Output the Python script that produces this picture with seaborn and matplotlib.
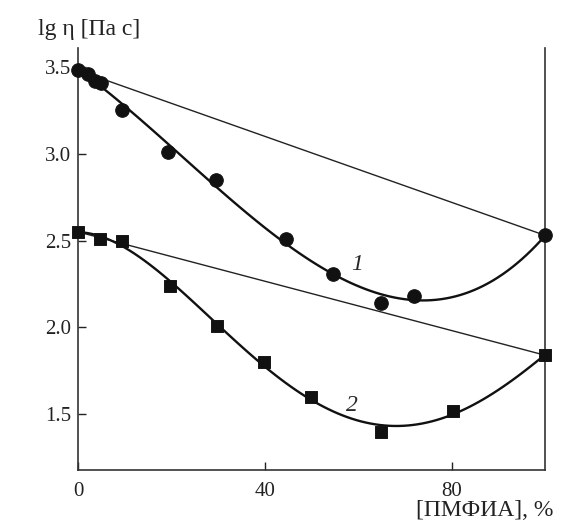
import pandas as pd
import matplotlib.pyplot as plt
import seaborn as sns

# curve 1 (circles)
x1 = [0, 2.2, 3.6, 4.9, 9.4, 19.3, 29.5, 44.5, 54.6, 64.9, 72, 100]
y1 = [3.48, 3.46, 3.42, 3.41, 3.25, 3.01, 2.85, 2.51, 2.31, 2.14, 2.18, 2.53]
# curve 2 (squares)
x2 = [0, 4.7, 9.4, 19.7, 29.8, 39.8, 49.9, 64.9, 80.3, 100]
y2 = [2.55, 2.51, 2.50, 2.24, 2.01, 1.80, 1.60, 1.40, 1.52, 1.84]

xticks = [0, 40, 80]
yticks = [1.5, 2.0, 2.5, 3.0, 3.5]

sns.set_style("white")
plt.rcParams['font.family'] = ['Liberation Serif', 'DejaVu Serif']

df1 = pd.DataFrame({'x': x1, 'y': y1})
df2 = pd.DataFrame({'x': x2, 'y': y2})

fig = plt.figure(figsize=(5.66, 5.25), dpi=100)
ax = fig.add_axes([0.138, 0.105, 0.825, 0.804])

# additivity lines between end points
sns.lineplot(data=df1.iloc[[0, -1]], x='x', y='y', ax=ax, color='#222222', lw=1.0)
sns.lineplot(data=df2.iloc[[0, -1]], x='x', y='y', ax=ax, color='#222222', lw=1.0)

# smooth fits
sns.regplot(data=df1, x='x', y='y', order=3, ci=None, scatter=False, ax=ax,
            line_kws={'color': '#111111', 'lw': 1.7}, truncate=True)
sns.regplot(data=df2, x='x', y='y', order=4, ci=None, scatter=False, ax=ax,
            line_kws={'color': '#111111', 'lw': 1.7}, truncate=True)

sns.scatterplot(data=df1, x='x', y='y', ax=ax, marker='o', s=95, color='#111111',
                edgecolor='#111111', zorder=5, clip_on=False)
sns.scatterplot(data=df2, x='x', y='y', ax=ax, marker='s', s=70, color='#111111',
                edgecolor='#111111', zorder=5, clip_on=False)

ax.text(59.7, 2.36, '1', fontsize=17, style='italic', ha='center', va='center')
ax.text(58.7, 1.55, '2', fontsize=17, style='italic', ha='center', va='center')

ax.set_xlim(0, 100)
ax.set_ylim(1.18, 3.61)
ax.set_xticks(xticks)
ax.set_yticks(yticks)
ax.set_xticklabels([str(t) for t in xticks])
ax.set_yticklabels(['%.1f' % t for t in yticks])
ax.tick_params(direction='in', length=6, width=1.0, labelsize=15, colors='#222222',
               bottom=True, left=True)
ax.tick_params(axis='x', pad=9)
ax.tick_params(axis='y', pad=5)
ax.set_xlabel('')
ax.set_ylabel('')

for s in ['left', 'bottom', 'right']:
    ax.spines[s].set_color('#333333')
    ax.spines[s].set_linewidth(1.2)
ax.spines['top'].set_visible(False)

fig.text(0.067, 0.943, 'lg η [Па с]', fontsize=17, ha='left', va='center', color='#222222')
fig.text(0.978, 0.028, '[ПМФИА], %', fontsize=17, ha='right', va='center', color='#222222')

fig.savefig('out.png', dpi=100, facecolor='white')
